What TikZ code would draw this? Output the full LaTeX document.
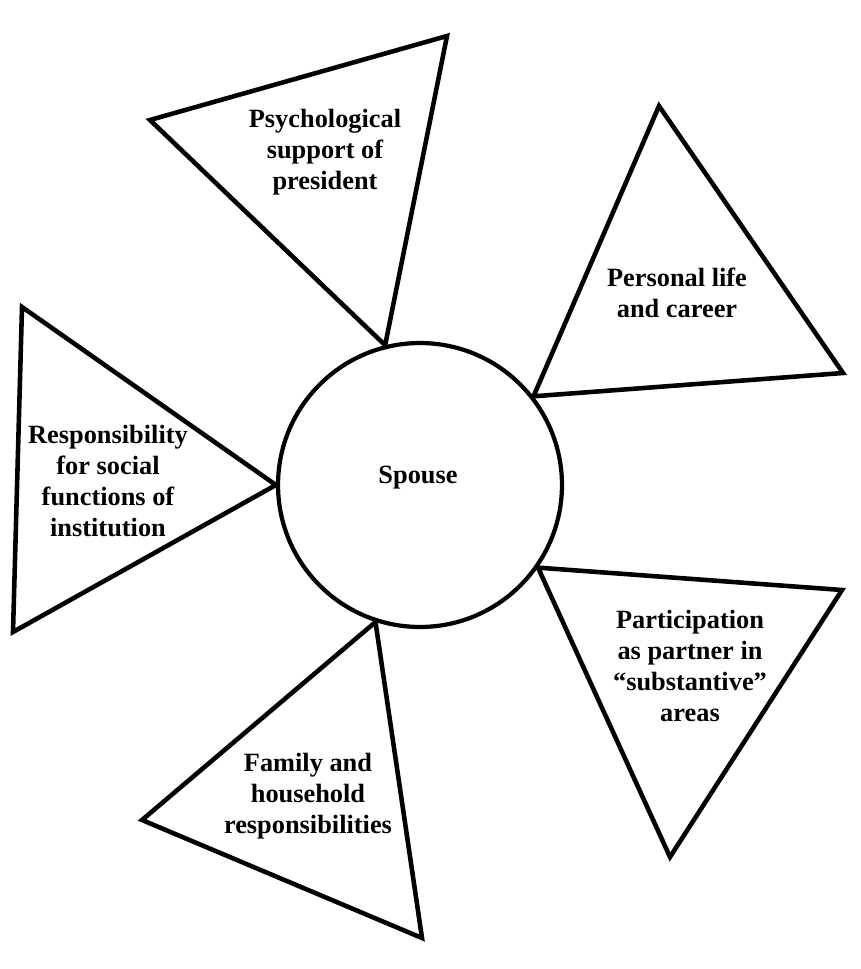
\documentclass[tikz,border=0pt]{standalone}
\usepackage{fontspec}
\setmainfont{Liberation Serif}
\usepackage{tikz}
\usetikzlibrary{calc}

\tikzset{
    wedge/.style={line width=2.6pt, line join=miter, fill=white},
    roletext/.style={align=center, font=\fontsize{15}{17.5}\selectfont\bfseries},
}

\begin{document}
\begin{tikzpicture}[x=0.02cm, y=-0.02cm]
    % Fix the page size
    \useasboundingbox (0,0) rectangle (860,969);

    % Draw the centre circle
    \node[circle, draw, line width=2.4pt, minimum size=5.68cm] (spouse) at (420,485) {};
    \node[roletext] (spousetext) at (418,478) {Spouse};

    % Define the outer corners of the triangles
    \coordinate (psyA) at (150,120);
    \coordinate (psyB) at (447,36);
    \coordinate (perA) at (659,106);
    \coordinate (perB) at (843,373);
    \coordinate (resA) at (22,307);
    \coordinate (resB) at (13,632);
    \coordinate (parA) at (842,590);
    \coordinate (parB) at (670,857);
    \coordinate (famA) at (422,938);
    \coordinate (famB) at (142,820);

    % Draw the triangles pointing at the circle
    \draw[wedge] (spouse.104) -- (psyA) -- (psyB) -- cycle;
    \draw[wedge] (spouse.38) -- (perA) -- (perB) -- cycle;
    \draw[wedge] (spouse.180) -- (resA) -- (resB) -- cycle;
    \draw[wedge] (spouse.-35) -- (parA) -- (parB) -- cycle;
    \draw[wedge] (spouse.252) -- (famA) -- (famB) -- cycle;

    % Label the triangles
    \node[roletext] (psy) at (325,152) {Psychological\\support of\\president};
    \node[roletext] (per) at (677,293) {Personal life\\and career};
    \node[roletext] (res) at (108,481) {Responsibility\\for social\\functions of\\institution};
    \node[roletext] (par) at (690,666) {Participation\\as partner in\\``substantive''\\areas};
    \node[roletext] (fam) at (308,796) {Family and\\household\\responsibilities};
\end{tikzpicture}
\end{document}
